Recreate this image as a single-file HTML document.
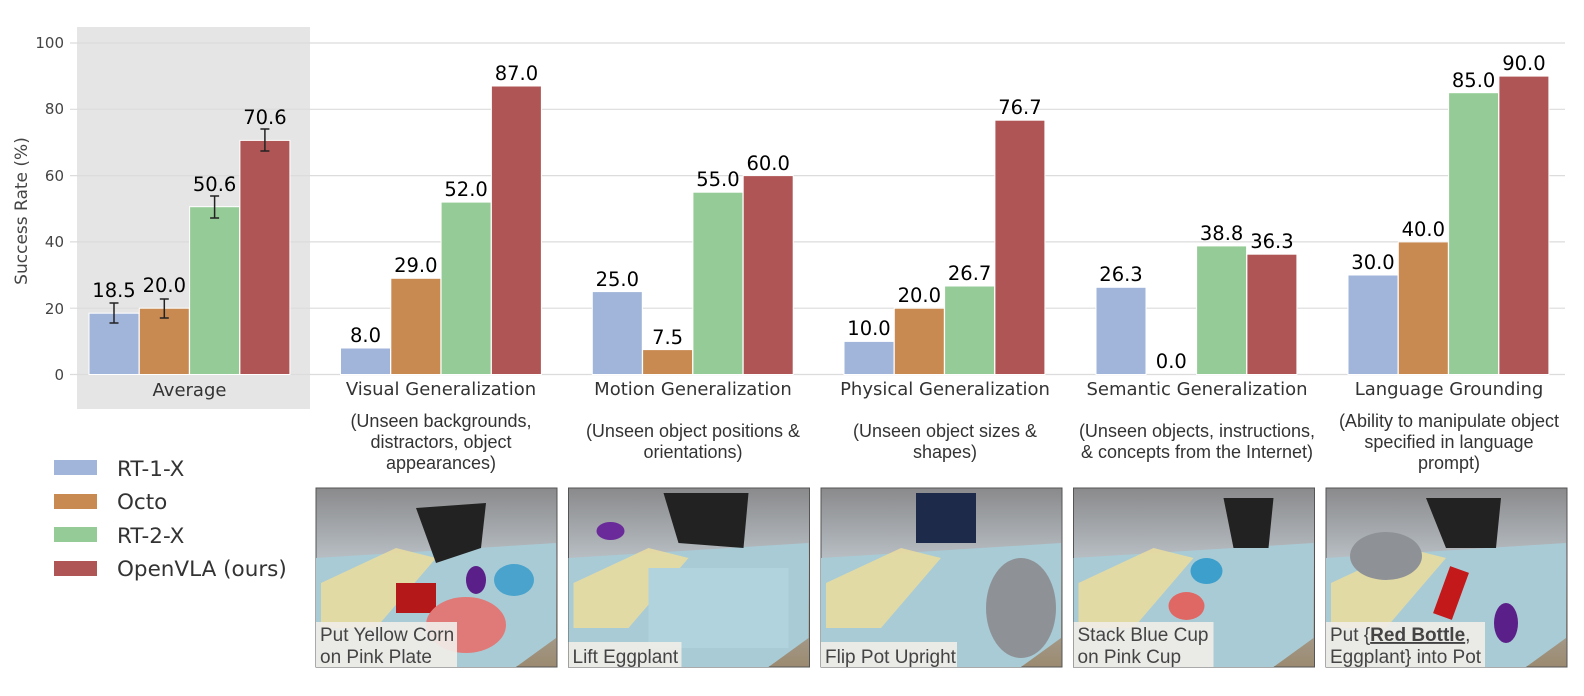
<!DOCTYPE html>
<html><head><style>
body{margin:0;background:#fff;}
svg{display:block;font-family:"DejaVu Sans","Liberation Sans",sans-serif;}
</style></head><body>
<svg width="1584" height="696" viewBox="0 0 1584 696" xmlns="http://www.w3.org/2000/svg">
<defs>
<linearGradient id="bg" x1="0" y1="0" x2="0" y2="1"><stop offset="0" stop-color="#8a8a8c"/><stop offset="0.4" stop-color="#b8bfc4"/><stop offset="1" stop-color="#9b8a70"/></linearGradient>
</defs>
<rect x="77" y="27" width="233" height="382" fill="#e5e5e5"/>
<g stroke="#dcdcdc" stroke-width="1.2">
<line x1="70" y1="374.5" x2="1565" y2="374.5"/>
<line x1="70" y1="308.2" x2="1565" y2="308.2"/>
<line x1="70" y1="241.9" x2="1565" y2="241.9"/>
<line x1="70" y1="175.6" x2="1565" y2="175.6"/>
<line x1="70" y1="109.3" x2="1565" y2="109.3"/>
<line x1="70" y1="43" x2="1565" y2="43"/>
</g>
<g font-size="15" fill="#444" text-anchor="end">
<text x="64" y="380">0</text><text x="64" y="314">20</text><text x="64" y="247">40</text>
<text x="64" y="181">60</text><text x="64" y="114">80</text><text x="64" y="48">100</text>
</g>
<text transform="translate(27,211) rotate(-90)" font-size="17" fill="#444" text-anchor="middle">Success Rate (%)</text>
<g stroke="#fff" stroke-width="1">
<rect x="89" y="313.2" width="50" height="61.3" fill="#a1b4d9"/>
<rect x="139.3" y="308.2" width="50" height="66.3" fill="#c98a52"/>
<rect x="189.6" y="206.7" width="50" height="167.8" fill="#95cb97"/>
<rect x="239.9" y="140.4" width="50" height="234.1" fill="#b05556"/>

<rect x="340.5" y="348" width="50" height="26.5" fill="#a1b4d9"/>
<rect x="390.8" y="278.3" width="50" height="96.2" fill="#c98a52"/>
<rect x="441.1" y="202.1" width="50" height="172.4" fill="#95cb97"/>
<rect x="491.4" y="86" width="50" height="288.5" fill="#b05556"/>

<rect x="592.3" y="291.6" width="50" height="82.9" fill="#a1b4d9"/>
<rect x="642.6" y="349.6" width="50" height="24.9" fill="#c98a52"/>
<rect x="692.9" y="192.2" width="50" height="182.3" fill="#95cb97"/>
<rect x="743.2" y="175.6" width="50" height="198.9" fill="#b05556"/>

<rect x="844" y="341.4" width="50" height="33.1" fill="#a1b4d9"/>
<rect x="894.3" y="308.2" width="50" height="66.3" fill="#c98a52"/>
<rect x="944.6" y="286" width="50" height="88.5" fill="#95cb97"/>
<rect x="994.9" y="120.2" width="50" height="254.3" fill="#b05556"/>

<rect x="1096" y="287.3" width="50" height="87.2" fill="#a1b4d9"/>
<rect x="1196.6" y="245.9" width="50" height="128.6" fill="#95cb97"/>
<rect x="1246.9" y="254.2" width="50" height="120.3" fill="#b05556"/>

<rect x="1348" y="275" width="50" height="99.5" fill="#a1b4d9"/>
<rect x="1398.3" y="241.9" width="50" height="132.6" fill="#c98a52"/>
<rect x="1448.6" y="92.7" width="50" height="281.8" fill="#95cb97"/>
<rect x="1498.9" y="76.1" width="50" height="298.4" fill="#b05556"/>
</g>
<g stroke="#222" stroke-width="1.5">
<line x1="114" y1="303" x2="114" y2="323"/><line x1="109.5" y1="303" x2="118.5" y2="303"/><line x1="109.5" y1="323" x2="118.5" y2="323"/>
<line x1="164.3" y1="299" x2="164.3" y2="318"/><line x1="159.8" y1="299" x2="168.8" y2="299"/><line x1="159.8" y1="318" x2="168.8" y2="318"/>
<line x1="214.6" y1="196" x2="214.6" y2="218"/><line x1="210.1" y1="196" x2="219.1" y2="196"/><line x1="210.1" y1="218" x2="219.1" y2="218"/>
<line x1="264.9" y1="129" x2="264.9" y2="151"/><line x1="260.4" y1="129" x2="269.4" y2="129"/><line x1="260.4" y1="151" x2="269.4" y2="151"/>
</g>
<g font-size="19.5" fill="#000" text-anchor="middle">
<text x="114" y="297">18.5</text><text x="164.3" y="292">20.0</text><text x="214.6" y="191">50.6</text><text x="264.9" y="124">70.6</text>
<text x="365.5" y="342">8.0</text><text x="415.8" y="272">29.0</text><text x="466.1" y="196">52.0</text><text x="516.4" y="80">87.0</text>
<text x="617.3" y="286">25.0</text><text x="667.6" y="344">7.5</text><text x="717.9" y="186">55.0</text><text x="768.2" y="170">60.0</text>
<text x="869" y="335">10.0</text><text x="919.3" y="302">20.0</text><text x="969.6" y="280">26.7</text><text x="1019.9" y="114">76.7</text>
<text x="1121" y="281">26.3</text><text x="1171.3" y="368">0.0</text><text x="1221.6" y="240">38.8</text><text x="1271.9" y="248">36.3</text>
<text x="1373" y="269">30.0</text><text x="1423.3" y="236">40.0</text><text x="1473.6" y="87">85.0</text><text x="1523.9" y="70">90.0</text>
</g>
<g font-size="18" fill="#333" text-anchor="middle">
<text x="189.5" y="396">Average</text>
<text x="441" y="395">Visual Generalization</text>
<text x="693" y="395">Motion Generalization</text>
<text x="945" y="395">Physical Generalization</text>
<text x="1197" y="395">Semantic Generalization</text>
<text x="1449" y="395">Language Grounding</text>
</g>
<g font-size="18" fill="#333" text-anchor="middle" font-family="Liberation Sans, sans-serif">
<text x="441" y="427">(Unseen backgrounds,</text><text x="441" y="448">distractors, object</text><text x="441" y="469">appearances)</text>
<text x="693" y="437">(Unseen object positions &amp;</text><text x="693" y="458">orientations)</text>
<text x="945" y="437">(Unseen object sizes &amp;</text><text x="945" y="458">shapes)</text>
<text x="1197" y="437">(Unseen objects, instructions,</text><text x="1197" y="458">&amp; concepts from the Internet)</text>
<text x="1449" y="427">(Ability to manipulate object</text><text x="1449" y="448">specified in language</text><text x="1449" y="469">prompt)</text>
</g>
<g font-size="21.5" fill="#333">
<rect x="54" y="460" width="43" height="15" fill="#a1b4d9"/><text x="117" y="476">RT-1-X</text>
<rect x="54" y="494" width="43" height="15" fill="#c98a52"/><text x="117" y="509">Octo</text>
<rect x="54" y="527" width="43" height="15" fill="#95cb97"/><text x="117" y="543">RT-2-X</text>
<rect x="54" y="561" width="43" height="15" fill="#b05556"/><text x="117" y="576">OpenVLA (ours)</text>
</g>
<g font-family="Liberation Sans, sans-serif" font-size="19" fill="#444">
<g transform="translate(316,488)">
<rect width="241" height="179" fill="url(#bg)" stroke="#555"/>
<polygon points="0,70 240,55 240,150 200,179 0,179" fill="#a9cbd6"/>
<polygon points="5,95 80,60 120,70 60,140 5,140" fill="#e8dca0" opacity="0.9"/>
<polygon points="100,20 170,15 165,60 120,75" fill="#222"/>
<rect x="80" y="95" width="40" height="30" fill="#b51818"/>
<ellipse cx="150" cy="137" rx="40" ry="28" fill="#e07a78"/>
<ellipse cx="198" cy="92" rx="20" ry="16" fill="#4aa3cc"/>
<ellipse cx="160" cy="92" rx="10" ry="14" fill="#5a1f88"/>
<rect x="0" y="134" width="141" height="45" fill="#f0ede8" opacity="0.92"/>
<text x="4" y="153">Put Yellow Corn</text><text x="4" y="175">on Pink Plate</text>
</g>
<g transform="translate(568.5,488)">
<rect width="241" height="179" fill="url(#bg)" stroke="#555"/>
<polygon points="0,70 240,55 240,150 200,179 0,179" fill="#a9cbd6"/>
<polygon points="5,95 80,60 120,70 60,140 5,140" fill="#e8dca0" opacity="0.9"/>
<rect x="80" y="80" width="140" height="80" fill="#b0d3de"/>
<polygon points="95,5 180,5 175,60 110,55" fill="#222"/>
<ellipse cx="42" cy="43" rx="14" ry="9" fill="#6a2a9a"/>
<rect x="0" y="154" width="113" height="25" fill="#f0ede8" opacity="0.92"/>
<text x="4" y="175">Lift Eggplant</text>
</g>
<g transform="translate(821,488)">
<rect width="241" height="179" fill="url(#bg)" stroke="#555"/>
<polygon points="0,70 240,55 240,150 200,179 0,179" fill="#a9cbd6"/>
<polygon points="5,95 80,60 120,70 60,140 5,140" fill="#e8dca0" opacity="0.9"/>
<rect x="95" y="5" width="60" height="50" fill="#1e2a4a"/>
<ellipse cx="200" cy="120" rx="35" ry="50" fill="#8e9296"/>
<rect x="0" y="154" width="136" height="25" fill="#f0ede8" opacity="0.92"/>
<text x="4" y="175">Flip Pot Upright</text>
</g>
<g transform="translate(1073.5,488)">
<rect width="241" height="179" fill="url(#bg)" stroke="#555"/>
<polygon points="0,70 240,55 240,150 200,179 0,179" fill="#a9cbd6"/>
<polygon points="5,95 80,60 120,70 60,140 5,140" fill="#e8dca0" opacity="0.9"/>
<polygon points="150,10 200,10 195,60 160,60" fill="#222"/>
<ellipse cx="133" cy="83" rx="16" ry="13" fill="#3c9fcc"/>
<ellipse cx="113" cy="118" rx="18" ry="14" fill="#e06864"/>
<rect x="0" y="134" width="140" height="45" fill="#f0ede8" opacity="0.92"/>
<text x="4" y="153">Stack Blue Cup</text><text x="4" y="175">on Pink Cup</text>
</g>
<g transform="translate(1326,488)">
<rect width="241" height="179" fill="url(#bg)" stroke="#555"/>
<polygon points="0,70 240,55 240,150 200,179 0,179" fill="#a9cbd6"/>
<polygon points="5,95 80,60 120,70 60,140 5,140" fill="#e8dca0" opacity="0.9"/>
<ellipse cx="60" cy="68" rx="36" ry="24" fill="#8e9296"/>
<polygon points="100,10 175,10 170,60 120,60" fill="#222"/>
<rect x="115" y="80" width="20" height="50" fill="#c4191a" transform="rotate(20 125 105)"/>
<ellipse cx="180" cy="135" rx="12" ry="20" fill="#5a1f88"/>
<rect x="0" y="134" width="159" height="45" fill="#f0ede8" opacity="0.92"/>
<text x="4" y="153">Put {<tspan font-weight="bold" text-decoration="underline">Red Bottle</tspan>,</text><text x="4" y="175">Eggplant} into Pot</text>
</g>
</g>
</svg>
</body></html>
